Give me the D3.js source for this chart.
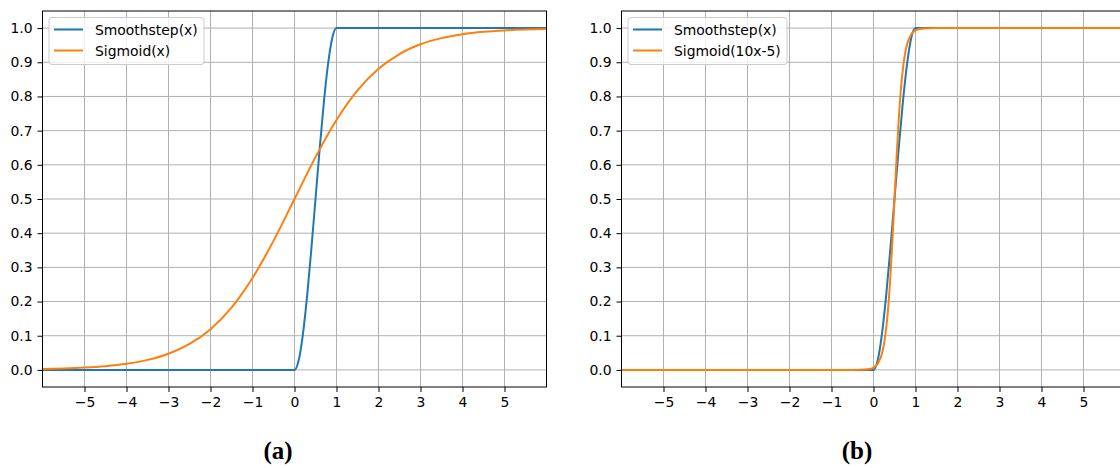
<!DOCTYPE html>
<html>
<head>
<meta charset="utf-8">
<script src="https://cdn.jsdelivr.net/npm/d3@7"></script>
<style>
  body { margin: 0; background: #fff; }
  svg { display: block; }
</style>
</head>
<body>
<svg id="chart" width="1120" height="468"></svg>
<script>
// valori
const xTicks = [-5, -4, -3, -2, -1, 0, 1, 2, 3, 4, 5];
const yTicks = [0, 0.1, 0.2, 0.3, 0.4, 0.5, 0.6, 0.7, 0.8, 0.9, 1.0];

const smoothX = [-6, 0, 0.1, 0.2, 0.3, 0.4, 0.5, 0.6, 0.7, 0.8, 0.9, 1, 6];
const smoothY = [0, 0, 0.028, 0.104, 0.216, 0.352, 0.5, 0.648, 0.784, 0.896, 0.972, 1, 1];

const sigX = [-6, -5.5, -5, -4.5, -4, -3.5, -3, -2.5, -2, -1.5, -1, -0.5, 0,
              0.5, 1, 1.5, 2, 2.5, 3, 3.5, 4, 4.5, 5, 5.5, 6];
const sigY = [0.0025, 0.0041, 0.0067, 0.011, 0.018, 0.0293, 0.0474, 0.0759, 0.1192, 0.1824, 0.2689, 0.3775, 0.5,
              0.6225, 0.7311, 0.8176, 0.8808, 0.9241, 0.9526, 0.9707, 0.982, 0.989, 0.9933, 0.9959, 0.9975];

const sig10X = [-6, -1, -0.5, -0.2, -0.1, 0, 0.1, 0.2, 0.25, 0.3, 0.35, 0.4, 0.45, 0.5,
                0.55, 0.6, 0.65, 0.7, 0.75, 0.8, 0.9, 1.0, 1.1, 1.2, 1.5, 6];
const sig10Y = [0, 0, 0.0001, 0.0009, 0.0025, 0.0067, 0.018, 0.0474, 0.0759, 0.1192, 0.1824, 0.2689, 0.3775, 0.5,
                0.6225, 0.7311, 0.8176, 0.8808, 0.9241, 0.9526, 0.982, 0.9933, 0.9975, 0.9991, 1.0, 1.0];

const panels = [
  { left: 42.5, label: "(a)", labelX: 278, series: [
      { name: "Smoothstep(x)", xs: smoothX, ys: smoothY, color: "#1f77b4" },
      { name: "Sigmoid(x)", xs: sigX, ys: sigY, color: "#ff7f0e" } ], legendW: 155 },
  { left: 621.5, label: "(b)", labelX: 857, series: [
      { name: "Smoothstep(x)", xs: smoothX, ys: smoothY, color: "#1f77b4" },
      { name: "Sigmoid(10x-5)", xs: sig10X, ys: sig10Y, color: "#ff7f0e" } ], legendW: 159 }
];

const svg = d3.select("#chart");
const plotTop = 11, plotBottom = 387, plotW = 504;
const font = "DejaVu Sans", fontSize = 13.9;

panels.forEach(function (p, i) {
  const x = d3.scaleLinear().domain([-6, 6]).range([p.left, p.left + plotW]);
  const y = d3.scaleLinear().domain([-0.05, 1.05]).range([plotBottom, plotTop]);

  const g = svg.append("g");

  /* clip della zona del grafico */
  g.append("clipPath").attr("id", "clip" + i)
    .append("rect").attr("x", p.left).attr("y", plotTop).attr("width", plotW).attr("height", plotBottom - plotTop);

  /* griglia */
  g.append("g").selectAll("line").data(xTicks).enter().append("line")
    .attr("x1", d => x(d)).attr("x2", d => x(d)).attr("y1", plotTop).attr("y2", plotBottom)
    .attr("stroke", "#b0b0b0").attr("stroke-width", 1);
  g.append("g").selectAll("line").data(yTicks).enter().append("line")
    .attr("y1", d => y(d)).attr("y2", d => y(d)).attr("x1", p.left).attr("x2", p.left + plotW)
    .attr("stroke", "#b0b0b0").attr("stroke-width", 1);

  /* curve */
  const line = d3.line().x(d => x(d[0])).y(d => y(d[1])).curve(d3.curveMonotoneX);
  p.series.forEach(function (s) {
    g.append("path")
      .datum(s.xs.map((v, k) => [v, s.ys[k]]))
      .attr("d", line)
      .attr("clip-path", "url(#clip" + i + ")")
      .attr("fill", "none").attr("stroke", s.color).attr("stroke-width", 2)
      .attr("stroke-linejoin", "round").attr("stroke-linecap", "square");
  });

  /* assi */
  const xAxis = g.append("g").attr("transform", `translate(0,${plotBottom})`)
    .call(d3.axisBottom(x).tickValues(xTicks).tickSize(5).tickPadding(5)
      .tickFormat(d => d < 0 ? "\u2212" + Math.abs(d) : d));
  const yAxis = g.append("g").attr("transform", `translate(${p.left},0)`)
    .call(d3.axisLeft(y).tickValues(yTicks).tickSize(5).tickPadding(5).tickFormat(d3.format(".1f")));
  [xAxis, yAxis].forEach(function (a) {
    a.select(".domain").remove();
    a.selectAll("text").attr("font-family", font).attr("font-size", fontSize).attr("fill", "#000");
    a.selectAll("line").attr("stroke", "#000").attr("stroke-width", 1);
  });

  g.append("rect").attr("x", p.left).attr("y", plotTop).attr("width", plotW).attr("height", plotBottom - plotTop)
    .attr("fill", "none").attr("stroke", "#000").attr("stroke-width", 1);

  /* legenda */
  const lg = g.append("g").attr("transform", `translate(${p.left + 6.5},17.5)`);
  lg.append("rect").attr("width", p.legendW).attr("height", 47).attr("rx", 3)
    .attr("fill", "#fff").attr("fill-opacity", 0.8).attr("stroke", "#cccccc").attr("stroke-width", 1);
  p.series.forEach(function (s, k) {
    const ly = 12 + k * 21;
    lg.append("line").attr("x1", 5).attr("x2", 34).attr("y1", ly).attr("y2", ly)
      .attr("stroke", s.color).attr("stroke-width", 2);
    lg.append("text").attr("x", 46).attr("y", ly + 5).text(s.name)
      .attr("font-family", font).attr("font-size", fontSize).attr("fill", "#000");
  });

  /* etichetta del pannello */
  svg.append("text").attr("x", p.labelX).attr("y", 459).attr("text-anchor", "middle")
    .attr("font-family", "Liberation Serif").attr("font-weight", "bold").attr("font-size", 25)
    .attr("fill", "#000").text(p.label);
});
</script>
</body>
</html>
